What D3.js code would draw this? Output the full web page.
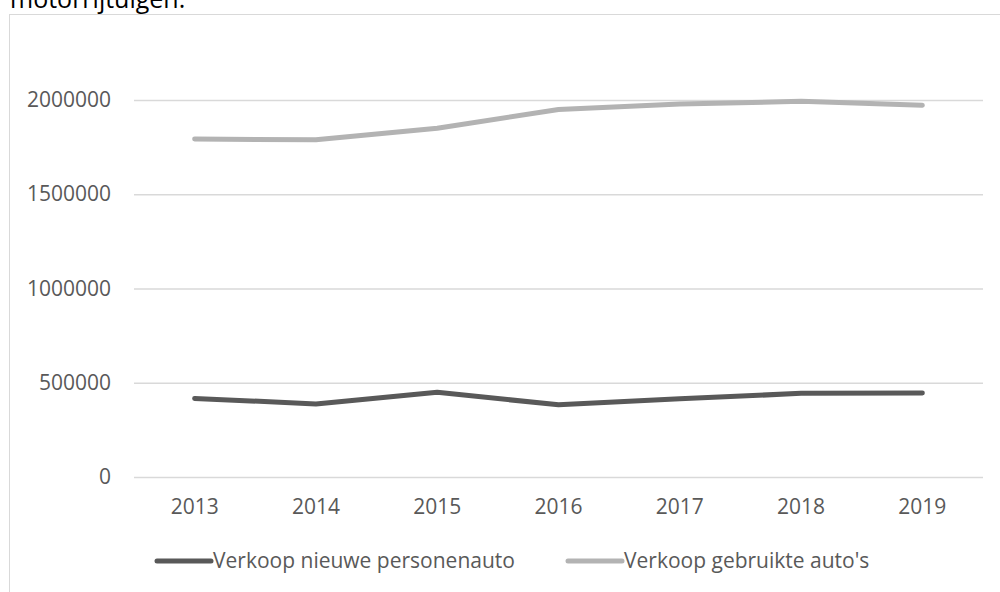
<!DOCTYPE html>
<html>
<head>
<meta charset="utf-8">
<script src="https://cdn.jsdelivr.net/npm/d3@7"></script>
<style>
  body { margin: 0; background: #fff; }
  svg { display: block; }
</style>
</head>
<body>
<div id="chart"></div>
<script>
const years = ['2013', '2014', '2015', '2016', '2017', '2018', '2019'];
const nieuwe = [416700, 387800, 449300, 382800, 414500, 443800, 446100];
const gebruikte = [1793000, 1789000, 1850000, 1950000, 1979000, 1993000, 1972000];
const yTicks = [0, 500000, 1000000, 1500000, 2000000];
const seriesNames = ['Verkoop nieuwe personenauto', "Verkoop gebruikte auto's"];
const seriesColors = ['#595959', '#b3b3b3'];

const width = 1000, height = 592;
const plotLeft = 134, plotRight = 983, plotTop = 100, plotBottom = 477;
const font = 'Open Sans';
const labelSize = '21px';

const svg = d3.select('#chart').append('svg')
  .attr('width', width)
  .attr('height', height);

// text above the chart, cut off by the page top
svg.append('text')
  .attr('x', 10)
  .attr('y', 8)
  .attr('font-family', font)
  .attr('font-size', '25px')
  .attr('fill', '#000')
  .text('motorrijtuigen.');

// chart frame
svg.append('rect')
  .attr('x', 9.5)
  .attr('y', 14.5)
  .attr('width', 1000)
  .attr('height', 600)
  .attr('fill', '#fff')
  .attr('stroke', '#d9d9d9')
  .attr('stroke-width', 1);

const xScale = d3.scaleBand()
  .domain(years)
  .range([plotLeft, plotRight]);

const yScale = d3.scaleLinear()
  .domain([0, 2000000])
  .range([plotBottom, plotTop]);

// grid lines
svg.append('g')
  .attr('transform', `translate(${plotLeft},0)`)
  .call(d3.axisLeft(yScale).tickValues(yTicks).tickSize(-(plotRight - plotLeft)).tickFormat(''))
  .call(g => g.select('.domain').remove())
  .call(g => g.selectAll('line').attr('stroke', '#d9d9d9').attr('stroke-width', 1.5));

// y labels
svg.append('g')
  .attr('transform', `translate(${plotLeft},0)`)
  .call(d3.axisLeft(yScale).tickValues(yTicks).tickSize(0).tickPadding(23).tickFormat(d3.format('d')))
  .call(g => g.select('.domain').remove())
  .call(g => g.selectAll('text')
    .attr('font-family', font)
    .attr('font-size', labelSize)
    .attr('fill', '#595959'));

// x labels
svg.append('g')
  .attr('transform', `translate(0,${plotBottom})`)
  .call(d3.axisBottom(xScale).tickSize(0).tickPadding(22))
  .call(g => g.select('.domain').remove())
  .call(g => g.selectAll('text')
    .attr('font-family', font)
    .attr('font-size', labelSize)
    .attr('fill', '#595959'));

const line = d3.line()
  .x((d, i) => xScale(years[i]) + xScale.bandwidth() / 2)
  .y(d => yScale(d));

[nieuwe, gebruikte].forEach((values, k) => {
  svg.append('path')
    .datum(values)
    .attr('d', line)
    .attr('fill', 'none')
    .attr('stroke', seriesColors[k])
    .attr('stroke-width', 5)
    .attr('stroke-linecap', 'round')
    .attr('stroke-linejoin', 'round');
});

// legend
const legendY = 561;
const legendX = [157, 568];
seriesNames.forEach((name, k) => {
  svg.append('line')
    .attr('x1', legendX[k])
    .attr('x2', legendX[k] + 54)
    .attr('y1', legendY)
    .attr('y2', legendY)
    .attr('stroke', seriesColors[k])
    .attr('stroke-width', 5)
    .attr('stroke-linecap', 'round');
  svg.append('text')
    .attr('x', legendX[k] + 56)
    .attr('y', legendY + 7)
    .attr('font-family', font)
    .attr('font-size', labelSize)
    .attr('fill', '#595959')
    .text(name);
});
</script>
</body>
</html>
